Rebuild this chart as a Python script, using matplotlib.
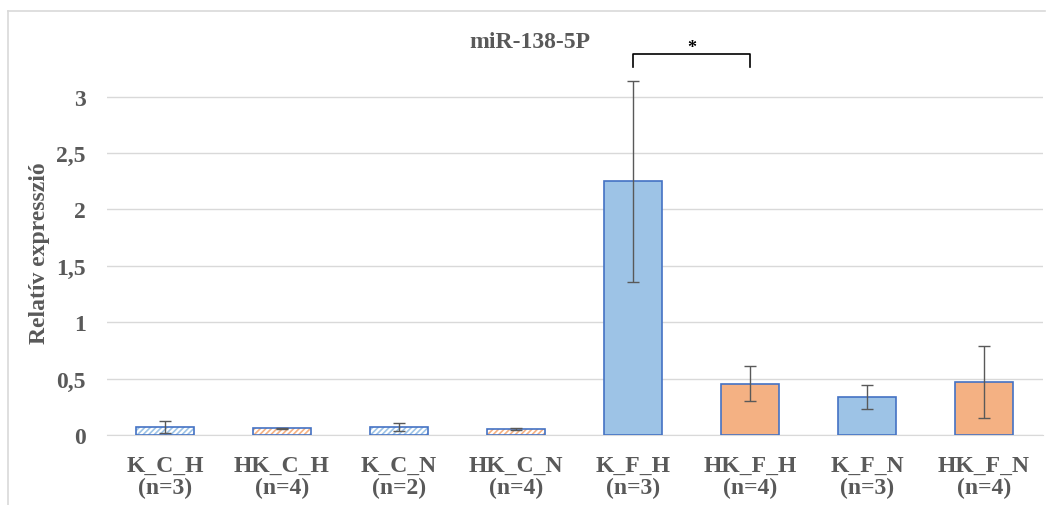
import numpy as np
import matplotlib.pyplot as plt
from matplotlib.lines import Line2D

plt.rcParams['font.family'] = ['Liberation Serif', 'DejaVu Serif']
plt.rcParams['hatch.linewidth'] = 1.2

groups = ['K_C_H', 'HK_C_H', 'K_C_N', 'HK_C_N', 'K_F_H', 'HK_F_H', 'K_F_N', 'HK_F_N']
n_vals = [3, 4, 2, 4, 3, 4, 3, 4]
means = [0.07, 0.06, 0.07, 0.05, 2.25, 0.455, 0.335, 0.47]
errs = [0.05, 0.006, 0.035, 0.01, 0.89, 0.155, 0.105, 0.32]
face = ['white', 'white', 'white', 'white', '#9DC3E6', '#F4B183', '#9DC3E6', '#F4B183']
hatch_col = ['#9DC3E6', '#F4B183', '#9DC3E6', '#F4B183', None, None, None, None]
yticks = [0, 0.5, 1, 1.5, 2, 2.5, 3]
ytick_labels = ['0', '0,5', '1', '1,5', '2', '2,5', '3']

txt = '#595959'
fig = plt.figure(figsize=(10.46, 5.06), dpi=100)
ax = fig.add_axes([106.5/1046, 1-436/506, 936/1046, (436-47)/506])

x = np.arange(len(groups))
for i in x:
    if hatch_col[i]:
        ax.bar(i, means[i], 0.5, color='white', edgecolor=hatch_col[i], hatch='//////', linewidth=0, zorder=2)
        ax.bar(i, means[i], 0.5, color='none', edgecolor='#4472C4', linewidth=1.2, zorder=3)
    else:
        ax.bar(i, means[i], 0.5, color=face[i], edgecolor='#4472C4', linewidth=1.2, zorder=3)
ax.errorbar(x, means, yerr=errs, fmt='none', ecolor='#595959', elinewidth=1, capsize=4, capthick=1, zorder=4)

ax.set_xlim(-0.5, 7.5)
ax.set_ylim(0, 3.45)
ax.set_yticks(yticks)
ax.set_yticklabels(ytick_labels)
ax.set_xticks(x)
ax.set_xticklabels([f'{g}\n(n={n})' for g, n in zip(groups, n_vals)], linespacing=1.1)
ax.tick_params(axis='both', length=0, labelsize=17, colors=txt, pad=14)
for lab in ax.get_xticklabels() + ax.get_yticklabels():
    lab.set_fontweight('bold')
ax.tick_params(axis='y', pad=15)
ax.grid(axis='y', color='#D9D9D9', linewidth=1, zorder=0)
ax.set_axisbelow(True)
for s in ['top', 'right', 'left']:
    ax.spines[s].set_visible(False)
ax.spines['bottom'].set_color('#D9D9D9')

fig.text(40/1046, 1-253/506, 'Relatív expresszió', rotation=90, ha='center', va='center',
         fontsize=17, fontweight='bold', color=txt)
fig.text(530/1046, 1-42/506, 'miR-138-5P', ha='center', va='center',
         fontsize=17, fontweight='bold', color=txt)

# significance bracket between K_F_H and HK_F_H
yb = 3.38
ax.plot([4, 4, 5, 5], [yb - 0.12, yb, yb, yb - 0.12], color='black', linewidth=1.2, clip_on=False)
ax.text(4.5, yb - 0.02, '*', ha='center', va='bottom', fontsize=13, fontweight='bold', color='black')

fig.add_artist(Line2D([8/1046, 1045/1046], [1-12/506, 1-12/506], color='#D9D9D9', linewidth=1.2))
fig.add_artist(Line2D([8/1046, 8/1046], [0, 1-12/506], color='#D9D9D9', linewidth=1.2))

fig.savefig('out.png', dpi=100)
